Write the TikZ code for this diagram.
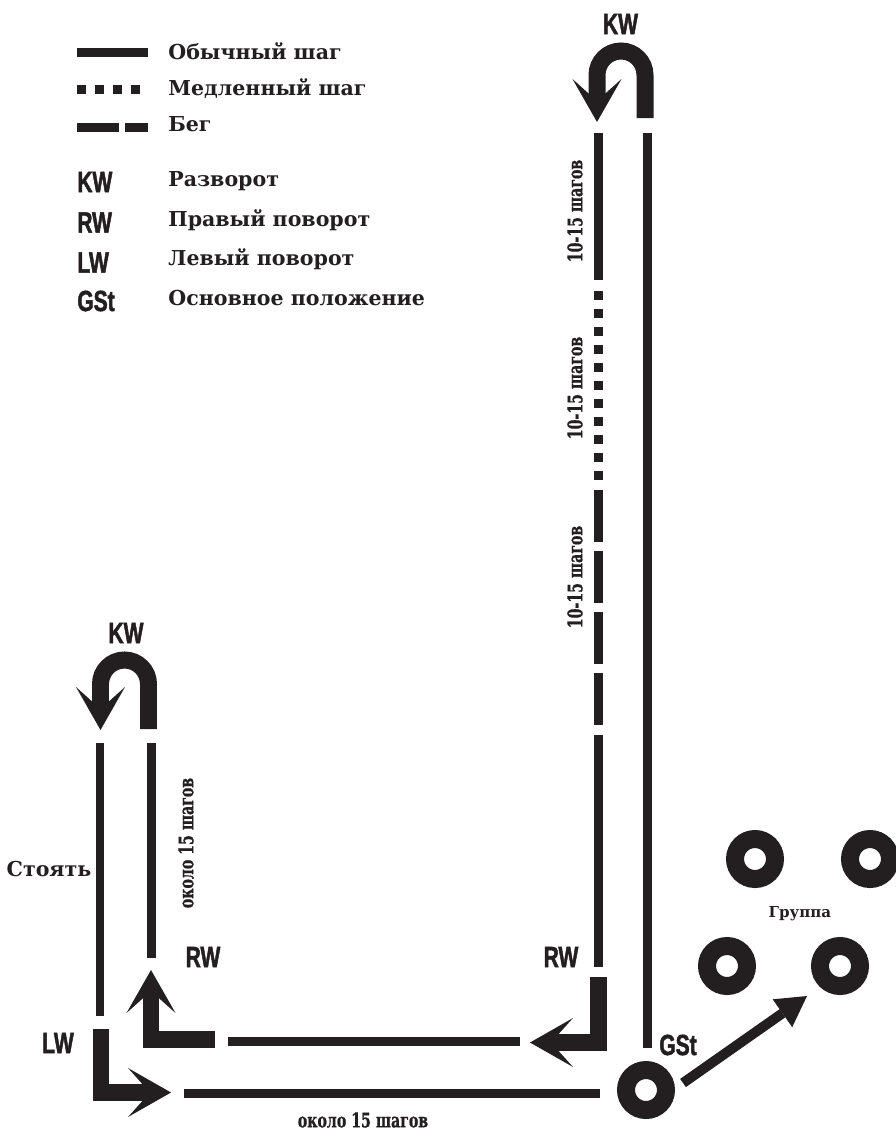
\documentclass[tikz,border=0pt]{standalone}
\usepackage{fontspec}
\setmainfont{DejaVu Serif}
\newfontfamily\tagfont[FakeStretch=0.72,FakeBold=1.6]{Liberation Sans Bold}
\newfontfamily\narrowfont[FakeStretch=0.7,FakeBold=0.8]{DejaVu Serif Bold}
\usetikzlibrary{arrows.meta}
\definecolor{ink}{HTML}{231F20}

\begin{document}
\begin{tikzpicture}[x=0.02cm,y=-0.02cm,
  every node/.style={inner sep=0pt,text=ink},
  txt/.style={font=\bfseries\fontsize{11.7}{14}\selectfont},
  tag/.style={font=\tagfont\fontsize{16.6}{18}\selectfont},
  small/.style={font=\narrowfont\fontsize{11.5}{14}\selectfont},
  walk/.style={draw=ink,line width=0.18cm},
  slow/.style={walk,dash pattern=on 0.18cm off 0.18cm},
  run/.style={walk,dash pattern=on 1.04cm off 0.18cm},
  turn/.style={draw=ink,line width=0.34cm,-{Stealth[length=0.86cm,width=0.98cm,inset=0.44cm,line width=0pt]}},
  ring/.style={circle,draw=ink,line width=0.36cm,minimum size=0.8cm}]
\useasboundingbox (0,0) rectangle (896,1130);

% legend
\draw[walk] (77,52.5) -- (148,52.5);
\draw[slow] (77,89) -- (140,89);
\draw[walk,dash pattern=on 0.84cm off 0.12cm] (77,127.5) -- (148,127.5);
\node[txt,anchor=base west] (lgwalk) at (168,59.5) {Обычный шаг};
\node[txt,anchor=base west] (lgslow) at (168,95) {Медленный шаг};
\node[txt,anchor=base west] (lgrun) at (168,131.5) {Бег};
\node[tag,anchor=west] (lgkw) at (77,182) {KW};
\node[tag,anchor=west] (lgrw) at (77,222.5) {RW};
\node[tag,anchor=west] (lglw) at (77,262.5) {LW};
\node[tag,anchor=west] (lggst) at (77,301) {GSt};
\node[txt,anchor=base west] (lgkwtxt) at (168,186.5) {Разворот};
\node[txt,anchor=base west] (lgrwtxt) at (168,226.5) {Правый поворот};
\node[txt,anchor=base west] (lglwtxt) at (168,265) {Левый поворот};
\node[txt,anchor=base west] (lggsttxt) at (168,305) {Основное положение};

% long leg
\draw[walk] (647,133) -- (647,1048);
\draw[walk] (598,133) -- (598,280);
\draw[slow] (598,291) -- (598,480);
\draw[run] (598,490) -- (598,725);
\draw[walk] (598,735) -- (598,967);
\node[small,rotate=90] (stepsa) at (575,211) {10-15 шагов};
\node[small,rotate=90] (stepsb) at (575,388) {10-15 шагов};
\node[small,rotate=90] (stepsc) at (575,577) {10-15 шагов};
\draw[turn] (645,118) -- (645,75) arc[start angle=0,end angle=-180,radius=24] -- (597,122);
\node[tag] (kwtop) at (620.5,24) {KW};
\draw[turn] (598.5,977) -- (598.5,1042.5) -- (530,1042.5);
\node[tag] (rwright) at (561,957) {RW};

% short leg
\draw[walk] (228,1041.5) -- (520,1041.5);
\draw[turn] (215,1039) -- (151,1039) -- (151,970);
\node[tag] (rwleft) at (203,957) {RW};
\draw[walk] (151,743) -- (151,958);
\node[small,rotate=90] (aboutv) at (186,843) {около 15 шагов};
\draw[turn] (148.5,729) -- (148.5,684) arc[start angle=0,end angle=-180,radius=24] -- (100.5,730);
\node[tag] (kwleft) at (126,633) {KW};
\draw[walk] (100,743) -- (100,1016);
\node[txt] (stand) at (49,869) {Стоять};
\draw[turn] (101,1029) -- (101,1092.5) -- (171,1092.5);
\node[tag] (lw) at (58,1043) {LW};
\draw[walk] (184,1093.5) -- (600,1093.5);
\node[small] (abouth) at (363,1120) {около 15 шагов};

% start and group
\node[ring] (gst) at (646,1090) {};
\node[tag] (gstlbl) at (678,1045) {GSt};
\node[ring] (grpa) at (755,859) {};
\node[ring] (grpb) at (870,859) {};
\node[ring] (grpc) at (727,966) {};
\node[ring] (grpd) at (840,966) {};
\node[font=\bfseries\fontsize{8.6}{10}\selectfont] (grp) at (800,914) {Группа};
\coordinate (gstout) at ([shift={(37,-7)}]gst.center);
\coordinate (grpin) at ([shift={(-33,30)}]grpd.center);
\draw[draw=ink,line width=0.2cm,-{Triangle[length=0.6cm,width=0.68cm,line width=0pt]}] (gstout) -- (grpin);
\end{tikzpicture}
\end{document}
